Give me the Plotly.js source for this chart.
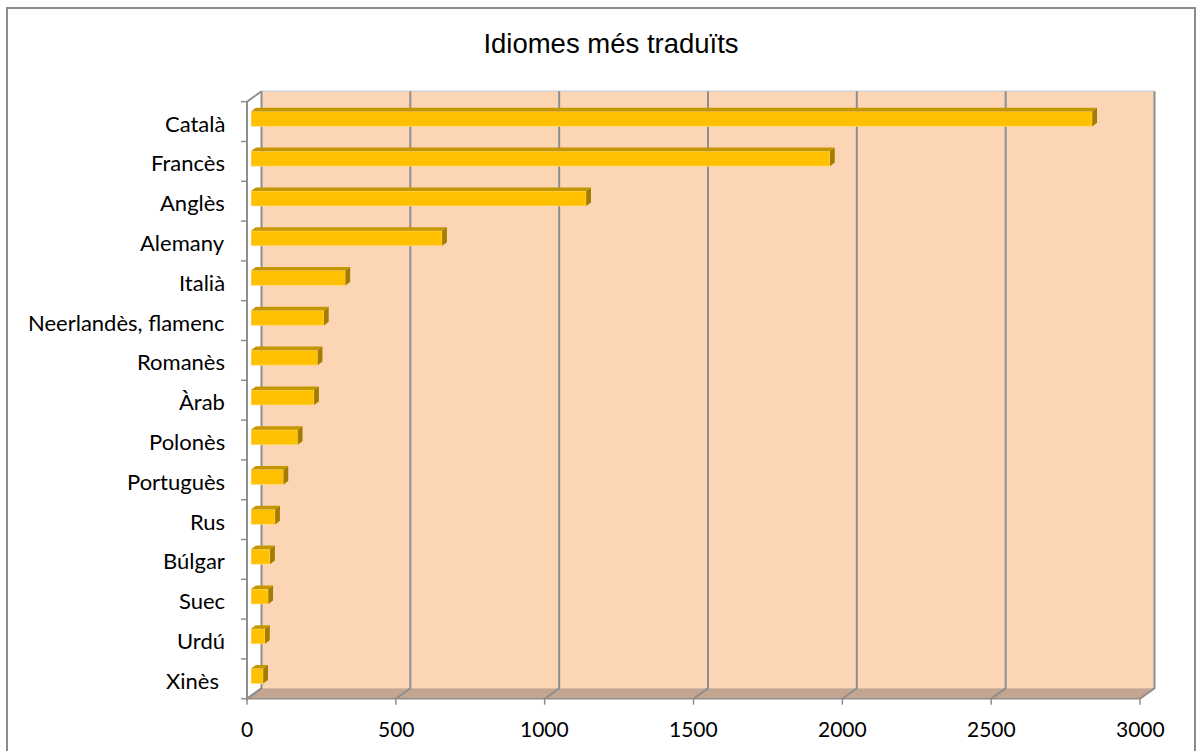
<!DOCTYPE html>
<html>
<head>
<meta charset="utf-8">
<script src="https://cdn.plot.ly/plotly-3.0.1.min.js"></script>
<style>html,body{margin:0;padding:0;background:#fff;}#chart{width:1203px;height:751px;}</style>
</head>
<body>
<div id="chart"></div>
<script>
// ---- data ----
const categories = ['Català','Francès','Anglès','Alemany','Italià','Neerlandès, flamenc','Romanès','Àrab','Polonès','Portuguès','Rus','Búlgar','Suec','Urdú','Xinès '];
const values = [2826,1945,1126,642,317,245,224,212,157,109,81,64,58,47,41];
const xTicks = [0,500,1000,1500,2000,2500,3000];
const xTickLabels = ['0','500','1000','1500','2000','2500','3000'];
const titleText = 'Idiomes més traduïts';

// ---- geometry (styling) ----
const FW = 1203, FH = 751;
const M = {l:251, r:59, t:99, b:55};
const PW = FW - M.l - M.r, PH = FH - M.t - M.b;
const XMAX = 3000, NCAT = categories.length;
const sx = XMAX / PW;          // data units per px
const FRONT = {dx:-4, dy:2.7}, BACK = {dx:10.5, dy:-7.8};
const vx = v => M.l + v / sx;
const py = idx => M.t + (idx + 0.5) * PH / NCAT;
const fx = p => (p - M.l) / PW;
const fy = p => (M.t + PH - p) / PH;
const P = (x, y) => fx(x).toFixed(5) + ',' + fy(y).toFixed(5);

const gray = '#8E8E8E';
const catFont = {family:'Lato, sans-serif', size:22, color:'#000'};
const tickFont = {family:'Lato, sans-serif', size:21, color:'#000'};
const shapes = [];
const yTopIdx = -0.5, yBotIdx = NCAT - 0.5;
const backTop = py(yTopIdx) + BACK.dy, backBot = py(yBotIdx) + BACK.dy;
const frontTop = py(yTopIdx) + FRONT.dy, frontBot = py(yBotIdx) + FRONT.dy;

// back wall
shapes.push({type:'rect', xref:'paper', yref:'paper', layer:'below',
  x0: fx(vx(0)+BACK.dx), x1: fx(vx(XMAX)+BACK.dx), y0: fy(backBot), y1: fy(backTop),
  fillcolor:'#FCD5B5', line:{width:0}});
// floor
shapes.push({type:'path', xref:'paper', yref:'paper', layer:'below',
  path: 'M' + P(vx(0)+BACK.dx, backBot) + 'L' + P(vx(XMAX)+BACK.dx, backBot) +
        'L' + P(vx(XMAX)+FRONT.dx, frontBot) + 'L' + P(vx(0)+FRONT.dx, frontBot) + 'Z',
  fillcolor:'#C4A690', line:{width:0}});
// back wall top edge
shapes.push({type:'path', xref:'paper', yref:'paper', layer:'below',
  path: 'M' + P(vx(0)+BACK.dx, backTop) + 'L' + P(vx(XMAX)+BACK.dx, backTop),
  line:{color:'#D2D2D2', width:1.5}});
// floor front edge
shapes.push({type:'path', xref:'paper', yref:'paper', layer:'below',
  path: 'M' + P(vx(0)+FRONT.dx, frontBot) + 'L' + P(vx(XMAX)+FRONT.dx, frontBot),
  line:{color:gray, width:1.5}});
// gridlines (wall + floor diagonal) and bottom ticks
xTicks.forEach(t => {
  shapes.push({type:'path', xref:'paper', yref:'paper', layer:'below',
    path: 'M' + P(vx(t)+BACK.dx, backTop) + 'L' + P(vx(t)+BACK.dx, backBot) + 'L' + P(vx(t)+FRONT.dx, frontBot),
    line:{color:gray, width:2}});
  shapes.push({type:'path', xref:'paper', yref:'paper', layer:'below',
    path: 'M' + P(vx(t)+FRONT.dx, frontBot) + 'L' + P(vx(t)+FRONT.dx, frontBot+6),
    line:{color:gray, width:1.5}});
});
// left front axis with top diagonal
shapes.push({type:'path', xref:'paper', yref:'paper', layer:'below',
  path: 'M' + P(vx(0)+BACK.dx, backTop) + 'L' + P(vx(0)+FRONT.dx, frontTop) + 'L' + P(vx(0)+FRONT.dx, frontBot) +
        'L' + P(vx(0)+BACK.dx, backBot),
  line:{color:gray, width:2}});
// left ticks
for (let k = 0; k <= NCAT; k++) {
  const yy = py(k - 0.5) + FRONT.dy;
  shapes.push({type:'path', xref:'paper', yref:'paper', layer:'below',
    path: 'M' + P(vx(0)+FRONT.dx, yy) + 'L' + P(vx(0)+FRONT.dx-6, yy),
    line:{color:gray, width:1.5}});
}
// chart frame
shapes.push({type:'rect', xref:'paper', yref:'paper', layer:'below',
  x0: fx(7), x1: fx(1195), y0: fy(765), y1: fy(8),
  line:{color:'#8C8C8C', width:2}, fillcolor:'rgba(0,0,0,0)'});

// 3D bar faces (top + side) from data
const barW = 0.377, halfPx = 7.5, dep = {x:4.8, y:3.6};
values.forEach((v, i) => {
  shapes.push({type:'path', xref:'x', yref:'y', layer:'above', ysizemode:'pixel', yanchor:i,
    path: 'M0,' + halfPx + 'L' + v + ',' + halfPx + 'L' + (v + dep.x*sx) + ',' + (halfPx+dep.y) +
          'L' + (dep.x*sx) + ',' + (halfPx+dep.y) + 'Z',
    fillcolor:'#C49600', line:{width:0}});
  shapes.push({type:'path', xref:'x', yref:'y', layer:'above', xsizemode:'pixel', xanchor:v, ysizemode:'pixel', yanchor:i,
    path: 'M0,' + halfPx + 'L' + dep.x + ',' + (halfPx+dep.y) + 'L' + dep.x + ',' + (-halfPx+dep.y) + 'L0,' + (-halfPx) + 'Z',
    fillcolor:'#A47D00', line:{width:0}});
});

const annotations = [];
categories.forEach((c, i) => {
  annotations.push({xref:'paper', x:0, xanchor:'right', xshift:-25.7, yref:'y', y:i, yanchor:'middle', yshift:-4.2,
    text: c.replace(/ $/, '\u00a0'), showarrow:false, borderpad:0, borderwidth:0, font:catFont});
});
xTicks.forEach((t, i) => {
  annotations.push({xref:'x', x:t, xanchor:'center', xshift:-3.7, yref:'paper', y:0, yanchor:'middle', yshift:-32,
    text: xTickLabels[i], showarrow:false, borderpad:0, borderwidth:0, font:tickFont});
});

const trace = {
  type:'bar', orientation:'h',
  x: values, y: categories.map((_, i) => i),
  customdata: categories,
  width: barW,
  marker:{color:'#FFC000', line:{color:'rgba(255,225,140,0.9)', width:0.8}},
  hovertemplate:'%{customdata}: %{x}<extra></extra>'
};

const layout = {
  width: FW, height: FH,
  margin: {l:M.l, r:M.r, t:M.t, b:M.b, pad:0, autoexpand:false},
  paper_bgcolor:'#FFFFFF', plot_bgcolor:'rgba(0,0,0,0)',
  title:{text:titleText, font:{family:'Liberation Sans, Arial, sans-serif', size:27.5, color:'#000'},
    xref:'container', x:611/FW, xanchor:'center', yref:'container', y:1-43.5/FH, yanchor:'middle'},
  xaxis:{range:[0, XMAX], showgrid:false, zeroline:false, showline:false, showticklabels:false, ticks:'', fixedrange:true},
  yaxis:{range:[NCAT-0.5, -0.5], showgrid:false, zeroline:false, showline:false, showticklabels:false, ticks:'', fixedrange:true},
  showlegend:false,
  shapes: shapes,
  annotations: annotations
};

Plotly.newPlot('chart', [trace], layout, {displayModeBar:false, staticPlot:true});
</script>
</body>
</html>
